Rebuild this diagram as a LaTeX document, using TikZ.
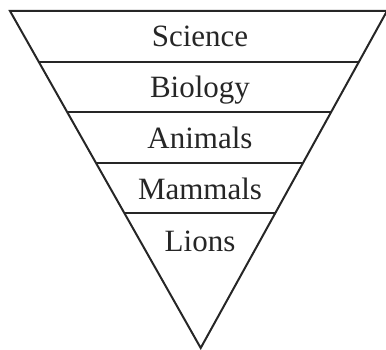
\documentclass[tikz,border=0pt]{standalone}
\usepackage{fontspec}
\setmainfont{Liberation Serif}
\usetikzlibrary{calc}

\begin{document}
\begin{tikzpicture}[
  x=1pt,y=1pt,
  edge/.style={draw=black!85,line width=2pt,line join=miter},
  level/.style={font=\fontsize{31}{36}\selectfont,text=black!85,anchor=base,inner sep=0pt}]

\useasboundingbox (0,0) rectangle (386,349);

% funnel outline
\coordinate (tl)   at (10,338);
\coordinate (tr)   at (387,338);
\coordinate (apex) at (200.7,1);
\draw[edge] (tl) -- (tr) -- (apex) -- cycle;

% dividing lines
\foreach \t/\name in {0.15/a,0.30/b,0.45/c,0.60/d}{
  \coordinate (l\name) at ($(tl)!\t!(apex)$);
  \coordinate (r\name) at ($(tr)!\t!(apex)$);
  \draw[edge] (l\name) -- (r\name);
}

\node[level] (science) at (200,302)   {Science};
\node[level] (biology) at (200,251.5) {Biology};
\node[level] (animals) at (200,201)   {Animals};
\node[level] (mammals) at (200,150)   {Mammals};
\node[level] (lions)   at (200,98)    {Lions};
\end{tikzpicture}
\end{document}
